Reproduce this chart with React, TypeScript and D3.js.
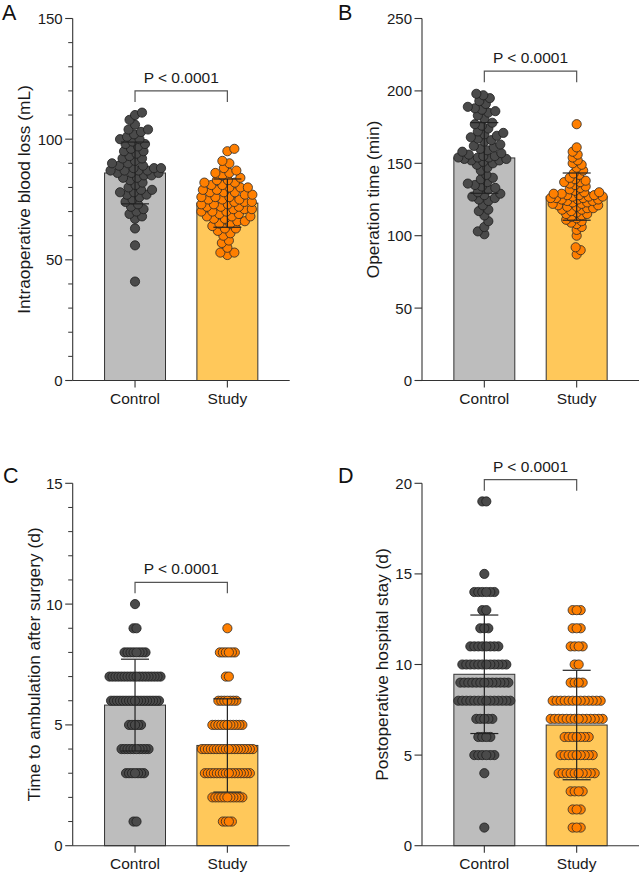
import React from 'react';
import * as d3 from 'd3';

const categories = ['Control', 'Study'];

// Panel A – Intraoperative blood loss (mL)
const bloodLossControl = [
  41, 56, 63, 67, 68, 69, 70, 71, 72, 73, 74, 75, 76, 77, 77, 78, 78, 79, 79, 80,
  81, 82, 83, 84, 84, 85, 85, 86, 86, 86, 87, 87, 87, 87, 88, 88, 88, 89, 89, 90,
  90, 91, 92, 92, 93, 94, 95, 95, 96, 97, 98, 98, 99, 100, 100, 101, 102, 103, 104, 104,
  106, 108, 110, 111,
];
const bloodLossStudy = [
  52, 53, 53, 55, 57, 58, 60, 61, 62, 63, 63, 64, 65, 65, 66, 66, 67, 67, 68, 68,
  68, 69, 69, 70, 70, 70, 71, 71, 71, 72, 72, 72, 73, 73, 73, 74, 74, 74, 75, 75,
  75, 76, 76, 76, 77, 77, 78, 78, 78, 79, 79, 80, 80, 80, 81, 81, 82, 82, 83, 83,
  84, 85, 86, 86, 87, 88, 90, 91, 95, 96,
];
const bloodLossMean = [86, 73.5];
const bloodLossSD = [12.8, 10];
const bloodLossTicks = [0, 50, 100, 150];

// Panel B – Operation time (min)
const opTimeControl = [
  101, 103, 106, 110, 114, 117, 118, 121, 124, 125, 126, 127, 128, 129, 130, 132, 133, 134, 135, 136,
  137, 139, 140, 142, 145, 147, 149, 150, 151, 152, 152, 153, 153, 154, 154, 154, 155, 155, 156, 157,
  158, 159, 160, 161, 162, 163, 165, 166, 167, 168, 169, 170, 171, 172, 174, 176, 177, 178, 181, 183,
  185, 186, 187, 188, 189, 191, 193, 195, 197, 198,
];
const opTimeStudy = [
  87, 90, 92, 100, 104, 106, 108, 109, 110, 111, 112, 113, 114, 115, 115, 116, 117, 118, 118, 119,
  119, 120, 120, 121, 121, 122, 122, 123, 123, 124, 124, 125, 125, 125, 126, 126, 126, 127, 127, 127,
  128, 128, 128, 129, 129, 130, 130, 131, 132, 133, 134, 135, 136, 137, 137, 138, 139, 140, 142, 143,
  145, 147, 149, 150, 152, 154, 156, 158, 161, 177,
];
const opTimeMean = [153.7, 127];
const opTimeSD = [24.4, 16.3];
const opTimeTicks = [0, 50, 100, 150, 200, 250];

// Panel C – Time to ambulation after surgery (d)
const ambulationLevels = [1, 2, 3, 4, 5, 6, 7, 8, 9, 10];
const ambulationControlCounts = [2, 0, 7, 10, 5, 17, 18, 8, 2, 1];
const ambulationStudyCounts = [4, 11, 16, 18, 11, 7, 2, 6, 1, 0];
const ambulationMean = [5.82, 4.15];
const ambulationSD = [1.9, 1.93];
const ambulationTicks = [0, 5, 10, 15];

// Panel D – Postoperative hospital stay (d)
const stayLevels = [1, 2, 3, 4, 5, 6, 7, 8, 9, 10, 11, 12, 13, 14, 15, 16, 17, 18, 19];
const stayControlCounts = [1, 0, 0, 1, 6, 4, 5, 14, 13, 12, 8, 3, 2, 6, 1, 0, 0, 0, 2];
const stayStudyCounts = [3, 3, 4, 10, 9, 7, 14, 13, 4, 2, 4, 3, 3, 0, 0, 0, 0, 0, 0];
const stayMean = [9.46, 6.66];
const staySD = [3.27, 3.02];
const stayTicks = [0, 5, 10, 15, 20];

const pLabel = 'P < 0.0001';

const expand = (levels: number[], counts: number[]) =>
  levels.flatMap((l, i) => Array.from({ length: counts[i] }, () => l));

// ---------- layout / style ----------
const FONT = '"Liberation Sans", Arial, Helvetica, sans-serif';
const AXIS_LEN = 217;
const BAR_FILL = ['#bdbdbd', '#ffc85a'];
const DOT_FILL = ['#4a4a4a', '#ff7f00'];
const DOT_STROKE = ['#1e1e1e', '#2a2a2a'];
const R = 4.6;

type Panel = {
  letter: string; letterX: number; letterY: number;
  axisX: number; top: number; bottom: number; max: number;
  ticks: number[]; minorStep: number | null;
  label: string; labelX: number;
  groups: number[][]; mean: number[]; sd: number[];
  bracket: number; discrete: boolean; spacing: number[];
};

const panels: Panel[] = [
  {
    letter: 'A', letterX: 2, letterY: 20, axisX: 72.7, top: 18.5, bottom: 380.5, max: 150,
    ticks: bloodLossTicks, minorStep: 10, label: 'Intraoperative blood loss (mL)', labelX: 30,
    groups: [bloodLossControl, bloodLossStudy], mean: bloodLossMean, sd: bloodLossSD,
    bracket: 120, discrete: false, spacing: [7.2, 7.2],
  },
  {
    letter: 'B', letterX: 338, letterY: 20, axisX: 422, top: 18.5, bottom: 380.5, max: 250,
    ticks: opTimeTicks, minorStep: null, label: 'Operation time (min)', labelX: 379,
    groups: [opTimeControl, opTimeStudy], mean: opTimeMean, sd: opTimeSD,
    bracket: 213.6, discrete: false, spacing: [7, 5.6],
  },
  {
    letter: 'C', letterX: 3, letterY: 483, axisX: 72.7, top: 483.3, bottom: 845.7, max: 15,
    ticks: ambulationTicks, minorStep: 1, label: 'Time to ambulation after surgery (d)', labelX: 39.5,
    groups: [expand(ambulationLevels, ambulationControlCounts), expand(ambulationLevels, ambulationStudyCounts)],
    mean: ambulationMean, sd: ambulationSD, bracket: 10.9, discrete: true, spacing: [3, 3],
  },
  {
    letter: 'D', letterX: 338, letterY: 483, axisX: 422, top: 483.3, bottom: 845.7, max: 20,
    ticks: stayTicks, minorStep: null, label: 'Postoperative hospital stay (d)', labelX: 388,
    groups: [expand(stayLevels, stayControlCounts), expand(stayLevels, stayStudyCounts)],
    mean: stayMean, sd: staySD, bracket: 20.2, discrete: true, spacing: [4, 4],
  },
];

function swarm(values: number[], y: (v: number) => number, d: number, maxW: number) {
  const sorted = [...values].sort((a, b) => a - b);
  const placed: { x: number; y: number }[] = [];
  const cands: number[] = [];
  for (let k = 0; k <= maxW * 2; k++) {
    const v = k * 0.5;
    if (k % 2 === 0) { cands.push(v); if (v > 0) cands.push(-v); }
    else { cands.push(-v); cands.push(v); }
  }
  for (const v of sorted) {
    const py = y(v);
    const near = placed.filter((p) => Math.abs(p.y - py) < d);
    let best = 0, bestScore = -1;
    for (const dx of cands) {
      let mind = Infinity;
      for (const p of near) {
        const dd = Math.hypot(p.x - dx, p.y - py);
        if (dd < mind) mind = dd;
      }
      if (mind >= d) { best = dx; break; }
      if (mind > bestScore) { bestScore = mind; best = dx; }
    }
    placed.push({ x: best, y: py });
  }
  return placed;
}

function rows(values: number[], y: (v: number) => number, s: number) {
  const out: { x: number; y: number }[] = [];
  const g = d3.group(values, (v) => v);
  for (const [v, arr] of g) {
    const n = arr.length;
    for (let i = 0; i < n; i++) out.push({ x: (i - (n - 1) / 2) * s, y: y(v) });
  }
  // outermost first so the centre ones lie on top
  return out.sort((a, b) => Math.abs(b.x) - Math.abs(a.x));
}

function PanelView({ p }: { p: Panel }) {
  const y = d3.scaleLinear().domain([0, p.max]).range([p.bottom, p.top]);
  const x = d3.scaleBand<string>().domain(categories).range([p.axisX, p.axisX + AXIS_LEN])
    .paddingInner(0.34).paddingOuter(0.345);
  const bw = x.bandwidth();
  const minor = p.minorStep ? d3.range(0, p.max + 1e-9, p.minorStep).filter((v) => !p.ticks.includes(v)) : [];
  const c0 = x(categories[0])! + bw / 2;
  const c1 = x(categories[1])! + bw / 2;
  const by = y(p.bracket);
  const midY = (p.top + p.bottom) / 2;
  return (
    <g>
      <text x={p.letterX} y={p.letterY} fontSize={21.5} fill="#111">{p.letter}</text>
      {/* bars */}
      {categories.map((c, i) => (
        <rect key={c} x={x(c)} y={y(p.mean[i])} width={bw} height={p.bottom - y(p.mean[i])}
          fill={BAR_FILL[i]} stroke="#333" strokeWidth={1} />
      ))}
      {/* dots */}
      {categories.map((c, i) => {
        const cx = x(c)! + bw / 2;
        const pts = p.discrete ? rows(p.groups[i], y, p.spacing[i]) : swarm(p.groups[i], y, p.spacing[i], 26);
        return (
          <g key={c}>
            {pts.map((pt, k) => (
              <circle key={k} cx={cx + pt.x} cy={pt.y} r={R} fill={DOT_FILL[i]} stroke={DOT_STROKE[i]} strokeWidth={0.8} />
            ))}
          </g>
        );
      })}
      {/* error bars */}
      {categories.map((c, i) => {
        const cx = x(c)! + bw / 2;
        const yt = y(p.mean[i] + p.sd[i]);
        const yb = y(p.mean[i] - p.sd[i]);
        return (
          <g key={c} stroke="#222" strokeWidth={1.2}>
            <line x1={cx} x2={cx} y1={yt} y2={yb} />
            <line x1={cx - 14} x2={cx + 14} y1={yt} y2={yt} />
            <line x1={cx - 14} x2={cx + 14} y1={yb} y2={yb} />
          </g>
        );
      })}
      {/* y axis */}
      <line x1={p.axisX} x2={p.axisX} y1={p.top} y2={p.bottom} stroke="#333" strokeWidth={1.1} />
      {p.ticks.map((t) => (
        <g key={t}>
          <line x1={p.axisX - 7.5} x2={p.axisX} y1={y(t)} y2={y(t)} stroke="#333" strokeWidth={1.1} />
          <text x={p.axisX - 10} y={y(t)} dy="0.36em" textAnchor="end" fontSize={15} fill="#1a1a1a">{t}</text>
        </g>
      ))}
      {minor.map((t) => (
        <line key={t} x1={p.axisX - 4.5} x2={p.axisX} y1={y(t)} y2={y(t)} stroke="#333" strokeWidth={1} />
      ))}
      <text transform={`translate(${p.labelX},${midY}) rotate(-90)`} textAnchor="middle" fontSize={17.3} fill="#1a1a1a">
        {p.label}
      </text>
      {/* x axis */}
      <line x1={p.axisX} x2={p.axisX + AXIS_LEN} y1={p.bottom} y2={p.bottom} stroke="#333" strokeWidth={1.1} />
      {categories.map((c) => {
        const cx = x(c)! + bw / 2;
        return (
          <g key={c}>
            <line x1={cx} x2={cx} y1={p.bottom} y2={p.bottom + 7} stroke="#333" strokeWidth={1.1} />
            <text x={cx} y={p.bottom + 23} textAnchor="middle" fontSize={15.5} fill="#1a1a1a">{c}</text>
          </g>
        );
      })}
      {/* significance bracket */}
      <path d={`M${c0},${by + 11}V${by}H${c1}V${by + 11}`} fill="none" stroke="#555" strokeWidth={1.2} />
      <text x={(c0 + c1) / 2} y={by - 8} textAnchor="middle" fontSize={15.5} fill="#1a1a1a">{pLabel}</text>
    </g>
  );
}

export default function App() {
  return (
    <svg width={642} height={873} style={{ position: 'absolute', left: 0, top: 0, background: '#fff' }}
      fontFamily={FONT}>
      {panels.map((p) => <PanelView key={p.letter} p={p} />)}
    </svg>
  );
}
